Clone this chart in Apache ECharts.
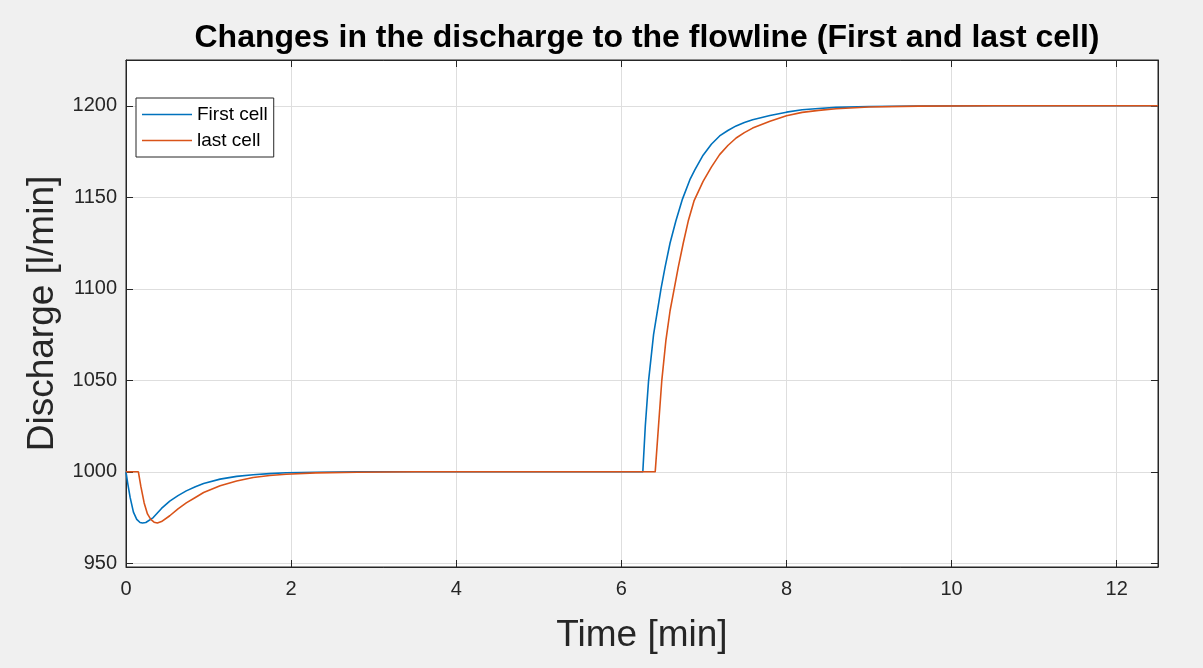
<!DOCTYPE html>
<html>
<head>
<meta charset="utf-8">
<script src="https://cdn.jsdelivr.net/npm/echarts@6/dist/echarts.min.js"></script>
<style>
  html, body { margin: 0; padding: 0; background: #f0f0f0; }
  #chart { width: 1203px; height: 668px; }
</style>
</head>
<body>
<div id="chart"></div>
<script>
// time [min] and discharge [l/min]
const firstTime = [0, 0.02, 0.05, 0.09, 0.13, 0.17, 0.2, 0.24, 0.33, 0.43, 0.53, 0.63, 0.73, 0.84, 0.94, 1.14, 1.34, 1.54, 1.74, 1.94, 2.3, 2.8, 3.5,
  6.26, 6.29, 6.33, 6.39, 6.48, 6.53, 6.59, 6.66, 6.74, 6.83, 6.89, 6.99, 7.09, 7.19, 7.29, 7.39, 7.49, 7.59, 7.8, 8.0, 8.19, 8.39, 8.6, 9.0, 9.6, 10.5, 12.5];
const firstValue = [1000, 994, 986, 978, 974, 972.3, 972, 972.3, 975, 980, 984, 987, 989.6, 991.8, 993.6, 996, 997.5, 998.4, 999, 999.5, 999.8, 1000, 1000,
  1000, 1025, 1050, 1075, 1100, 1112, 1125, 1137, 1149, 1159.6, 1165, 1173, 1179, 1183.5, 1186.5, 1189, 1190.9, 1192.4, 1194.7, 1196.5, 1197.8, 1198.5, 1199.1, 1199.6, 1199.9, 1200, 1200];
const lastTime = [0, 0.15, 0.18, 0.22, 0.26, 0.3, 0.34, 0.38, 0.43, 0.53, 0.63, 0.73, 0.84, 0.94, 1.14, 1.34, 1.54, 1.74, 1.94, 2.3, 2.8, 3.5,
  6.41, 6.45, 6.49, 6.54, 6.59, 6.64, 6.69, 6.75, 6.81, 6.88, 6.99, 7.09, 7.19, 7.29, 7.39, 7.49, 7.59, 7.8, 8.0, 8.19, 8.39, 8.6, 9.0, 9.6, 10.5, 12.5];
const lastValue = [1000, 1000, 992, 983, 977, 974, 972.5, 972, 972.8, 976, 979.8, 983, 986, 988.7, 992.4, 995, 996.9, 998, 998.7, 999.4, 999.8, 1000,
  1000, 1025, 1050, 1072, 1088, 1100, 1112, 1125, 1137, 1148, 1158.7, 1166.5, 1173.3, 1178.3, 1182.4, 1185.3, 1187.8, 1191.5, 1194.5, 1196.4, 1197.5, 1198.4, 1199.3, 1199.8, 1200, 1200];
const xTicks = [0, 2, 4, 6, 8, 10, 12];
const yTicks = [950, 1000, 1050, 1100, 1150, 1200];
const seriesNames = ['First cell', 'last cell'];
const seriesColors = ['#0072BD', '#D95319'];

const axisColor = '#262626';
const gridColor = '#dedede';
const font = '"Liberation Sans", Arial, sans-serif';

const pairs = (xs, ys) => xs.map((x, i) => [x, ys[i]]);

const chart = echarts.init(document.getElementById('chart'));

const tickStyle = (values) => ({
  show: true, inside: true, length: 7, customValues: values,
  lineStyle: { color: axisColor, width: 1 }
});

// box axes: onZero off so the right/top copies stay on the frame
const baseX = {
  type: 'value', min: 0, max: 12.5,
  axisLine: { show: true, onZero: false, lineStyle: { color: axisColor, width: 1 } },
  axisTick: tickStyle(xTicks),
  splitLine: { show: false }
};
const baseY = {
  type: 'value', min: 948, max: 1225,
  axisLine: { show: true, onZero: false, lineStyle: { color: axisColor, width: 1 } },
  axisTick: tickStyle(yTicks),
  splitLine: { show: false }
};

chart.setOption({
  backgroundColor: '#f0f0f0',
  animation: false,
  title: {
    text: 'Changes in the discharge to the flowline (First and last cell)',
    left: 642, top: 17, textAlign: 'center',
    textStyle: { fontFamily: font, fontSize: 32, fontWeight: 'bold', color: '#000' }
  },
  grid: {
    left: 126, right: 45, top: 60, bottom: 101,
    show: true, backgroundColor: '#fff', borderColor: axisColor, borderWidth: 1
  },
  legend: {
    data: seriesNames,
    orient: 'vertical', left: 136, top: 98,
    padding: [7, 6, 7, 6],
    icon: 'rect',
    itemWidth: 50, itemHeight: 1.6, itemGap: 7,
    backgroundColor: '#fff', borderColor: axisColor, borderWidth: 1,
    textStyle: { fontFamily: font, fontSize: 19, color: '#000' }
  },
  xAxis: [
    Object.assign({}, baseX, {
      position: 'bottom',
      name: 'Time [min]', nameLocation: 'middle', nameGap: 50,
      nameTextStyle: { fontFamily: font, fontSize: 37, color: axisColor },
      axisLabel: { show: true, customValues: xTicks, margin: 12, fontFamily: font, fontSize: 20, color: axisColor },
      splitLine: { show: true, lineStyle: { color: gridColor, width: 1 } }
    }),
    Object.assign({}, baseX, { position: 'top', axisLabel: { show: false } })
  ],
  yAxis: [
    Object.assign({}, baseY, {
      position: 'left',
      name: 'Discharge [l/min]', nameLocation: 'middle', nameGap: 60,
      nameTextStyle: { fontFamily: font, fontSize: 37, color: axisColor },
      axisLabel: {
        show: true, customValues: yTicks, margin: 9, fontFamily: font, fontSize: 20, color: axisColor,
        formatter: (v) => String(v)
      },
      splitLine: { show: true, lineStyle: { color: gridColor, width: 1 } }
    }),
    Object.assign({}, baseY, { position: 'right', axisLabel: { show: false } })
  ],
  series: [
    {
      name: seriesNames[0], type: 'line', data: pairs(firstTime, firstValue),
      symbol: 'none',
      lineStyle: { color: seriesColors[0], width: 1.6 }, itemStyle: { color: seriesColors[0] }
    },
    {
      name: seriesNames[1], type: 'line', data: pairs(lastTime, lastValue),
      symbol: 'none',
      lineStyle: { color: seriesColors[1], width: 1.6 }, itemStyle: { color: seriesColors[1] }
    }
  ]
});
</script>
</body>
</html>
